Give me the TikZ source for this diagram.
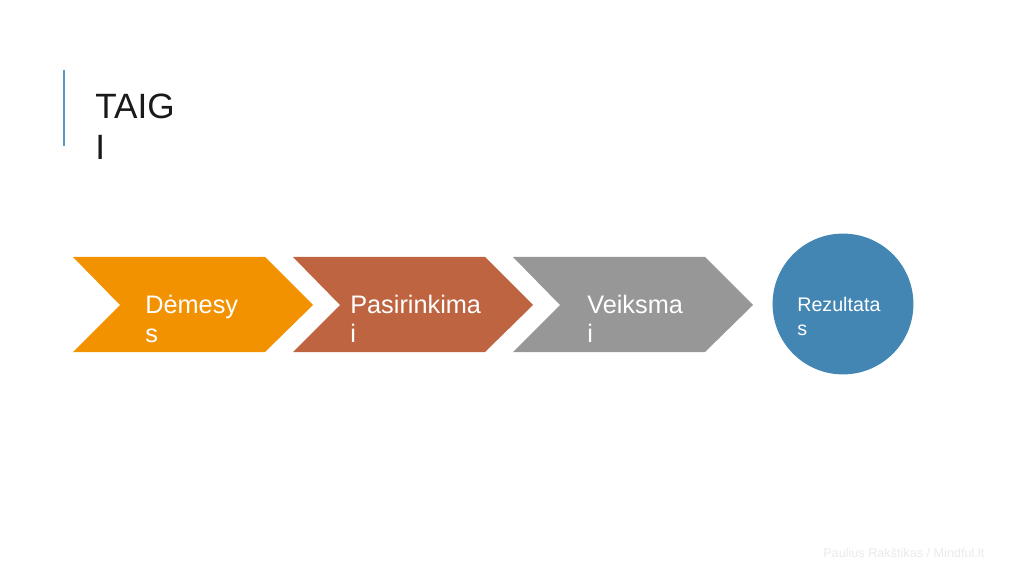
\documentclass[tikz,border=0pt]{standalone}
\usepackage{fontspec}
\setmainfont{Liberation Sans}
\usetikzlibrary{positioning}

\definecolor{baronblue}{HTML}{5B96BC}
\definecolor{attnorange}{HTML}{F39200}
\definecolor{choicerust}{HTML}{BE6440}
\definecolor{actgray}{HTML}{979797}
\definecolor{resultblue}{HTML}{4386B3}
\definecolor{footgray}{HTML}{EAEAEA}

\begin{document}
\begin{tikzpicture}[x=0.025cm, y=-0.025cm,
  every node/.style={inner sep=0pt, align=left, anchor=base west},
  steplabel/.style={text=white, font=\fontsize{18}{21.3}\selectfont}]

\useasboundingbox (0,0) rectangle (1024,576);

% Title with a thin bar on its left
\draw[baronblue, line width=1.5pt] (64,70) -- (64,146);
\node[text=black!90, font=\fontsize{25}{29.2}\selectfont] (title) at (95,160) {TAIG\\I};

% Three chevrons in a row, then the result circle
\foreach \x/\col in {73/attnorange, 293/choicerust, 513/actgray}
  \fill[\col] (\x,257) -- ++(192,0) -- ++(48,48) -- ++(-48,47) -- ++(-192,0) -- ++(47,-47) -- cycle;

\node[steplabel] (attention) at (145,343) {Dėmesy\\s};
\node[steplabel] (choices) at (350,343) {Pasirinkima\\i};
\node[steplabel] (actions) at (587,343) {Veiksma\\i};

\node[circle, fill=resultblue, minimum size=3.52cm, anchor=center] (result) at (843,304) {};
\node[text=white, font=\fontsize{14}{17}\selectfont] (resultlabel) at (797,335) {Rezultata\\s};

% Footer
\node[text=footgray, font=\fontsize{9}{11}\selectfont] (footer) at (823,557) {Paulius Rakštikas / Mindful.lt};

\end{tikzpicture}
\end{document}
